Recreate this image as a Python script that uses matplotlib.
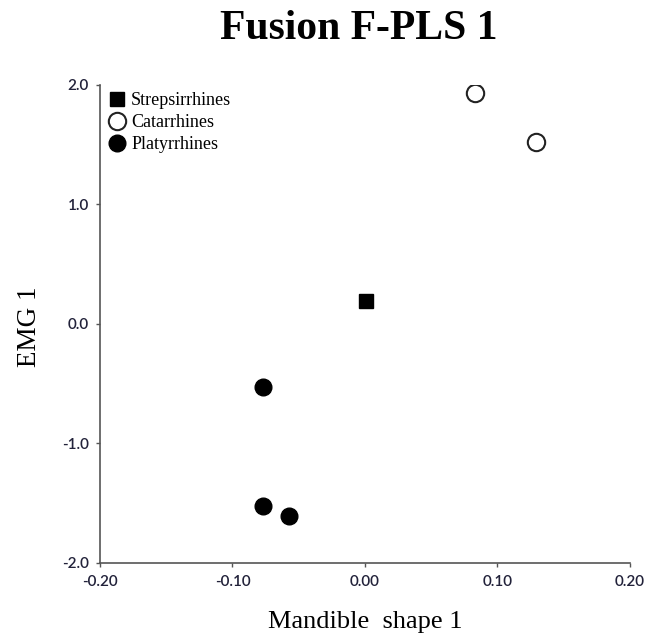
import matplotlib.pyplot as plt

# scores on the first pair of F-PLS axes
strep_x = [0.001]
strep_y = [0.19]
catar_x = [0.083, 0.129]
catar_y = [1.93, 1.52]
platy_x = [-0.077, -0.077, -0.057]
platy_y = [-0.53, -1.52, -1.61]

xticks = [-0.20, -0.10, 0.00, 0.10, 0.20]
yticks = [-2.0, -1.0, 0.0, 1.0, 2.0]

fig = plt.figure(figsize=(6.51, 6.41), dpi=100)
ax = fig.add_axes([0.1536, 0.1217, 0.8141, 0.7457])

ax.plot(strep_x, strep_y, 's', color='black', markersize=9.5, label='Strepsirrhines')
ax.plot(catar_x, catar_y, 'o', markerfacecolor='white', markeredgecolor='#222222',
        markeredgewidth=1.5, markersize=12.5, label='Catarrhines')
ax.plot(platy_x, platy_y, 'o', color='black', markersize=12, label='Platyrrhines')

ax.set_xlim(-0.2, 0.2)
ax.set_ylim(-2.0, 2.0)
ax.set_xticks(xticks)
ax.set_yticks(yticks)
ax.set_xticklabels(['%.2f' % v for v in xticks])
ax.set_yticklabels(['%.1f' % v for v in yticks])
ax.tick_params(direction='out', length=3, width=1, color='#555555',
               labelsize=11, labelcolor='#22223a')
ax.tick_params(axis='x', pad=6)
ax.tick_params(axis='y', pad=5)
for lab in ax.get_xticklabels() + ax.get_yticklabels():
    lab.set_family('Lato')
    lab.set_fontweight('semibold')

for side in ['top', 'right']:
    ax.spines[side].set_visible(False)
for side in ['left', 'bottom']:
    ax.spines[side].set_color('#555555')
    ax.spines[side].set_linewidth(1.2)

ax.set_xlabel('Mandible  shape 1', family='Liberation Serif', fontsize=19)
ax.xaxis.set_label_coords(0.5, -0.101)
ax.set_ylabel('EMG 1', family='Liberation Serif', fontsize=19.5)
ax.yaxis.set_label_coords(-0.11, 0.495)
fig.text(359 / 651, 0.985, 'Fusion F-PLS 1', family='Liberation Serif',
         fontweight='bold', fontsize=30, ha='center', va='top')

ax.legend(loc='upper left', bbox_to_anchor=(0.015, 0.985), frameon=False,
          prop={'family': 'Liberation Serif', 'size': 13},
          handletextpad=0.28, labelspacing=0.28, borderaxespad=0, borderpad=0,
          handlelength=1.0, markerscale=1.0)

fig.savefig('out.png', dpi=100)
